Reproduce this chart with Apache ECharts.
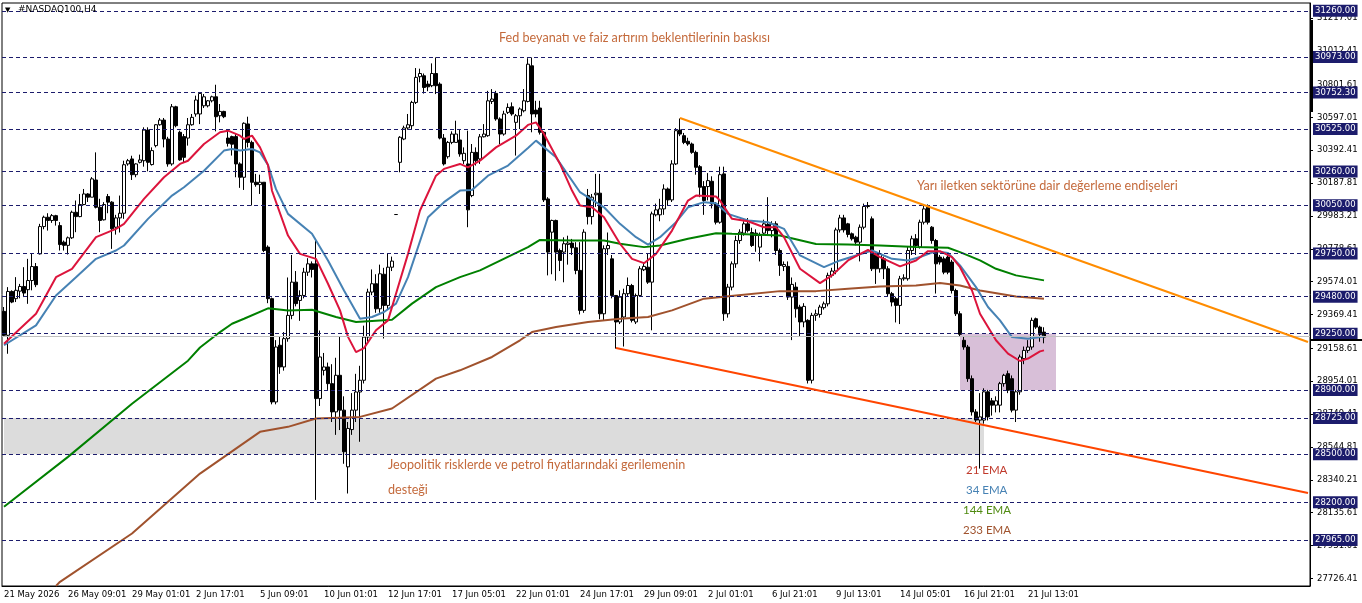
<!DOCTYPE html>
<html>
<head>
<meta charset="utf-8">
<title>#NASDAQ100,H4</title>
<script src="https://cdn.jsdelivr.net/npm/echarts@6/dist/echarts.min.js"></script>
<style>
    html, body { margin: 0; padding: 0; background: #fff; }
    #chart { width: 1362px; height: 603px; }
</style>
</head>
<body>
<div id="chart"></div>
<script>
// x tick labels, one every 16 bars
const xTickLabels = ['21 May 2026', '26 May 09:01', '29 May 01:01', '2 Jun 17:01', '5 Jun 09:01', '10 Jun 01:01',
    '12 Jun 17:01', '17 Jun 05:01', '22 Jun 01:01', '24 Jun 17:01', '29 Jun 09:01', '2 Jul 01:01',
    '6 Jul 21:01', '9 Jul 13:01', '14 Jul 05:01', '16 Jul 21:01', '21 Jul 13:01'];
const yTickValues = [31217.01, 31012.41, 30801.61, 30597.01, 30392.41, 30187.81, 29983.21, 29778.61, 29574.01,
    29369.41, 29158.61, 28954.01, 28749.41, 28544.81, 28340.21, 28135.61, 27931.01, 27726.41];
const levelPrices = [31260, 30973, 30752.30, 30525, 30260, 30050, 29750, 29480, 29250, 28900, 28725, 28500, 28200, 27965];
const bidPrice = 29236;
const slotCount = 327;

// open, high, low, close
const ohlc = [
    [29389,29416,29230,29240],[29240,29540,29125,29513],[29513,29520,29440,29447],[29468,29602,29447,29520],
    [29515,29560,29470,29544],[29544,29664,29478,29503],[29524,29716,29436,29581],[29581,29747,29520,29668],
    [29668,29690,29540,29555],[29747,29934,29743,29917],[29917,29985,29900,29975],[29975,30000,29892,29955],
    [29955,29995,29940,29985],[29985,29990,29923,29955],[29923,29945,29768,29805],[29820,29830,29768,29800],
    [29800,29855,29743,29847],[29847,30016,29840,30006],[30006,30079,29882,29979],[29979,30120,29975,30054],
    [30054,30151,30050,30120],[30120,30125,30070,30100],[30100,30225,30100,30214],[30207,30379,30030,30037],
    [30037,30090,29882,29955],[29959,30069,29955,30054],[30104,30120,30000,30069],[30069,30075,29778,29903],
    [29913,29990,29867,29971],[29971,30110,29880,30000],[30000,30327,29965,30302],[30307,30338,30296,30327],
    [30338,30358,30207,30240],[30240,30311,30224,30307],[30317,30365,30310,30332],[30327,30535,30290,30518],
    [30518,30535,30261,30317],[30303,30410,30297,30390],[30421,30555,30410,30551],[30551,30593,30545,30580],
    [30580,30593,30410,30462],[30462,30476,30290,30307],[30307,30680,30296,30663],[30663,30669,30535,30545],
    [30504,30514,30327,30332],[30477,30493,30317,30348],[30468,30593,30421,30551],[30551,30618,30545,30597],
    [30618,30732,30601,30705],[30618,30752,30555,30746],[30669,30742,30655,30725],[30669,30705,30659,30700],
    [30700,30732,30690,30725],[30725,30800,30510,30601],[30607,30680,30566,30634],[30634,30638,30592,30601],
    [30468,30514,30415,30435],[30477,30483,30359,30430],[30477,30493,30224,30307],[30307,30317,30158,30224],
    [30224,30566,30145,30560],[30556,30601,30410,30441],[30441,30452,30048,30193],[30193,30245,30165,30178],
    [30178,30240,30120,30193],[30193,30193,29758,29768],[29789,29800,29440,29468],[29468,29475,28810,28825],
    [28825,29210,28810,29167],[29178,29230,29000,29043],[29043,29260,29020,29219],[29219,29600,29200,29364],
    [29364,29740,29340,29571],[29571,29640,29420,29437],[29457,29520,29330,29488],[29488,29660,29470,29633],
    [29633,29720,29610,29685],[29685,29700,29600,29650],[29685,29840,28215,28846],[28846,29270,28800,29105],
    [29022,29130,28990,29043],[29043,29070,28900,28939],[28939,29060,28700,28763],[28763,29100,28620,28991],
    [28991,29230,28650,28774],[28774,28860,28440,28515],[28421,28700,28255,28660],[28653,28880,28620,28774],
    [28774,29000,28700,28887],[28887,29050,28577,28960],[28960,29300,28940,29229],[29229,29530,29200,29509],
    [29509,29650,29490,29561],[29561,29620,29380,29405],[29405,29680,29380,29623],[29620,29660,29220,29426],
    [29426,29750,29400,29664],[29664,29730,29640,29702],[29992,29992,29992,29992],[30317,30480,30255,30473],
    [30462,30545,30455,30531],[30531,30618,30520,30551],[30545,30700,30520,30690],[30690,30904,30680,30846],
    [30850,30900,30815,30870],[30856,30870,30745,30783],[30804,30825,30760,30787],[30794,30933,30785,30870],
    [30870,30970,30742,30794],[30804,30815,30460,30468],[30468,30493,30297,30307],[30352,30450,30340,30441],
    [30441,30510,30430,30493],[30441,30576,30441,30493],[30456,30518,30352,30369],[30327,30410,30307,30373],
    [30307,30514,29913,30021],[30110,30431,30100,30379],[30379,30410,30297,30327],[30338,30493,30307,30476],
    [30476,30555,30472,30493],[30483,30762,30476,30700],[30696,30773,30680,30711],[30746,30762,30576,30587],
    [30587,30597,30431,30493],[30493,30638,30483,30618],[30628,30684,30618,30659],[30663,30690,30607,30618],
    [30566,30618,30359,30607],[30607,30659,30524,30649],[30638,30773,30628,30700],[30696,30965,30690,30928],
    [30918,30970,30504,30618],[30642,30700,30597,30618],[30655,30700,30490,30504],[30504,30510,30070,30083],
    [30089,30100,29613,29758],[29882,29960,29620,29955],[29955,29960,29580,29758],[29768,29780,29640,29706],
    [29758,29850,29570,29810],[29806,29860,29680,29814],[29814,29840,29740,29785],[29785,29820,29620,29644],
    [29644,29820,29370,29395],[29395,29900,29380,29882],[30110,30151,29930,29979],[29979,30120,29930,30100],
    [30115,30245,30040,30125],[30125,30245,29340,29374],[29374,29800,29330,29779],[29779,29880,29740,29799],
    [29716,29740,29470,29488],[29488,29490,29157,29323],[29323,29520,29310,29478],[29354,29530,29170,29499],
    [29499,29600,29480,29550],[29550,29560,29320,29333],[29323,29500,29310,29488],[29488,29670,29480,29654],
    [29648,29690,29640,29669],[29664,29750,29560,29571],[29571,30010,29271,29996],[29990,30060,29980,30021],
    [29990,30090,29950,30027],[30027,30180,29990,30151],[30151,30160,30050,30083],[30083,30330,30070,30307],
    [30307,30530,30300,30514],[30518,30590,30480,30493],[30483,30500,30430,30441],[30448,30470,30420,30431],
    [30431,30440,30370,30379],[30379,30390,30240,30286],[30290,30300,30100,30162],[30166,30200,29990,30079],
    [30166,30250,30080,30203],[30199,30230,30030,30058],[30058,30070,29930,29944],[29944,30290,29935,30240],
    [30245,30290,29330,29374],[29374,29560,29350,29540],[29540,29700,29520,29685],[29685,29860,29660,29830],
    [29830,29900,29810,29882],[29876,29950,29860,29934],[29934,29970,29880,29892],[29880,29910,29790,29799],
    [29876,29900,29760,29861],[29789,29880,29700,29861],[29876,29960,29860,29934],[29930,30100,29860,29892],
    [29892,29950,29850,29934],[29934,29950,29740,29768],[29768,29780,29610,29675],[29669,29700,29640,29681],
    [29669,29700,29460,29478],[29478,29600,29210,29557],[29540,29570,29350,29405],[29416,29430,29230,29323],
    [29323,29440,29290,29420],[29333,29340,28940,28960],[28960,29380,28940,29364],[29364,29400,29330,29374],
    [29370,29430,29350,29416],[29412,29450,29400,29436],[29436,29630,29420,29613],[29613,29660,29600,29640],
    [29640,29910,29620,29896],[29896,29990,29880,29971],[29971,29990,29880,29896],[29934,29940,29850,29868],
    [29872,29880,29830,29841],[29851,29860,29800,29820],[29820,29930,29700,29913],[29913,30060,29900,30042],
    [30048,30070,30030,30042],[29965,29980,29640,29654],[29747,29760,29560,29654],[29654,29770,29630,29747],
    [29716,29730,29590,29654],[29654,29670,29480,29499],[29499,29510,29420,29447],[29468,29480,29320,29426],
    [29426,29610,29310,29592],[29592,29620,29580,29598],[29592,29790,29580,29768],[29768,29860,29740,29841],
    [29841,29870,29740,29799],[29789,29960,29780,29944],[29944,30045,29930,30027],[30037,30055,29930,29944],
    [29913,29920,29810,29830],[29830,29840,29500,29685],[29727,29740,29680,29696],[29716,29730,29620,29633],
    [29727,29740,29620,29633],[29696,29710,29500,29519],[29519,29530,29360,29374],[29374,29390,29230,29246],
    [29209,29230,29150,29167],[29167,29180,28950,28970],[28970,28990,28740,28763],[28763,28780,28700,28712],
    [28712,28880,28410,28732],[28712,28910,28690,28888],[28888,28900,28710,28732],[28832,28850,28740,28805],
    [28805,28860,28760,28832],[28805,28950,28760,28939],[28939,29000,28920,28991],[29001,29020,28880,28898],
    [28970,28990,28760,28774],[28774,28900,28700,28888],[28888,29120,28870,29105],[29095,29170,29060,29146],
    [29146,29210,29130,29167],[29167,29350,29150,29333],[29343,29350,29280,29291],[29291,29300,29200,29246],
    [29260,29290,29190,29229]
];

// moving averages: [bar index, value]
const ema21 = [[0,29188],[8,29374],[13,29602],[17,29654],[23,29851],[28,29903],[30,29934],[35,30089],[40,30224],
    [44,30307],[46,30327],[50,30431],[54,30504],[56,30514],[59,30483],[60,30462],[62,30483],[64,30410],[66,30300],
    [67,30140],[71,29861],[74,29747],[78,29716],[81,29561],[84,29395],[86,29230],[88,29135],[90,29160],[93,29271],
    [96,29333],[98,29499],[101,29747],[104,30017],[108,30234],[110,30276],[114,30307],[116,30286],[119,30327],
    [123,30410],[128,30483],[131,30550],[133,30566],[135,30493],[139,30307],[142,30141],[144,30048],[147,30037],
    [150,29975],[154,29810],[157,29716],[160,29689],[163,29747],[167,29892],[171,30079],[173,30110],[178,30104],
    [179,30079],[182,29965],[186,29950],[190,29913],[193,29913],[195,29851],[199,29654],[204,29565],[207,29613],
    [211,29706],[216,29772],[219,29727],[224,29669],[228,29706],[231,29764],[234,29764],[237,29727],[239,29664],
    [242,29519],[244,29374],[248,29209],[251,29126],[254,29080],[256,29095],[259,29140],[260,29146]];
const ema34 = [[0,29178],[8,29302],[13,29488],[18,29602],[23,29716],[28,29768],[30,29799],[36,29965],[42,30110],
    [45,30162],[50,30265],[55,30390],[57,30400],[59,30390],[62,30400],[64,30379],[66,30300],[68,30150],[71,29996],
    [77,29872],[81,29706],[85,29519],[89,29343],[92,29354],[95,29385],[98,29437],[101,29602],[106,29975],[110,30069],
    [114,30141],[117,30145],[121,30234],[126,30297],[131,30406],[133,30452],[138,30348],[144,30131],[150,30037],
    [154,29934],[158,29851],[161,29805],[164,29851],[168,29944],[171,30037],[175,30069],[178,30062],[181,29996],
    [186,29955],[191,29944],[195,29903],[199,29737],[205,29664],[209,29706],[217,29768],[222,29716],[226,29706],
    [229,29727],[233,29764],[236,29752],[239,29675],[243,29540],[246,29416],[249,29333],[252,29229],[256,29219],
    [260,29233]];
const ema144 = [[0,28172],[16,28483],[32,28814],[46,29082],[49,29164],[54,29260],[57,29312],[60,29343],[66,29408],
    [71,29395],[77,29399],[83,29354],[88,29323],[97,29337],[102,29437],[108,29540],[114,29602],[119,29644],
    [131,29789],[134,29834],[142,29830],[150,29830],[154,29810],[160,29789],[164,29799],[171,29841],[178,29876],
    [182,29872],[194,29861],[203,29809],[211,29805],[219,29799],[228,29789],[236,29785],[239,29758],[244,29706],
    [248,29654],[253,29613],[260,29582]];
const ema233 = [[13,27680],[14,27705],[32,28006],[49,28379],[64,28639],[71,28670],[78,28722],[89,28732],
    [97,28784],[108,28970],[114,29022],[122,29105],[129,29209],[132,29260],[138,29291],[146,29323],[154,29343],
    [161,29354],[167,29395],[175,29468],[183,29488],[194,29515],[203,29515],[211,29530],[219,29544],[228,29550],
    [234,29565],[239,29550],[244,29519],[253,29482],[260,29468]];

// trend lines and zones: [bar index, price]
const upperTrend = [[169, 30593], [326, 29198]];
const lowerTrend = [[153, 29161], [326, 28258]];
const supportZone = [[0, 28725], [245, 28500]];
const reboundZone = [[239, 29250], [263, 28900]];

const slots = [];
for (let i = 0; i < slotCount; i++) slots.push(String(i));

const axisFont = 'DejaVu Sans';
const noteFont = '12.6px Lato';
const emaFont = '11.5px Lato';

function emaLine(name, data, color) {
    return {
        name: name,
        type: 'line',
        data: data,
        symbol: 'none',
        smooth: false,
        silent: true,
        lineStyle: { color: color, width: 2 },
        z: 4
    };
}

function trendLine(data, color) {
    return {
        type: 'line',
        data: data,
        symbol: 'none',
        silent: true,
        lineStyle: { color: color, width: 2 },
        z: 5
    };
}

const chart = echarts.init(document.getElementById('chart'));

chart.setOption({
    animation: false,
    backgroundColor: '#fff',
    grid: {
        left: 2, right: 52, top: 3, bottom: 17,
        show: true, borderColor: '#000', borderWidth: 1
    },
    xAxis: {
        type: 'category',
        data: slots,
        boundaryGap: true,
        axisLine: { lineStyle: { color: '#000' } },
        axisTick: {
            alignWithLabel: true, length: 3,
            interval: (i) => i % 16 === 0,
            lineStyle: { color: '#000' }
        },
        axisLabel: {
            interval: (i) => i % 16 === 0,
            formatter: (v, i) => xTickLabels[i / 16] || '',
            align: 'left',
            margin: 4,
            color: '#000',
            fontSize: 8.5,
            fontFamily: axisFont
        },
        splitLine: { show: false }
    },
    yAxis: {
        type: 'value',
        position: 'right',
        min: 27679,
        max: 31309,
        splitLine: { show: false },
        axisLine: { show: true, lineStyle: { color: '#000' } },
        axisTick: { show: true, length: 3, customValues: yTickValues, lineStyle: { color: '#000' } },
        axisLabel: {
            customValues: yTickValues,
            formatter: (v) => v.toFixed(2),
            margin: 7,
            color: '#000',
            fontSize: 8.5,
            fontFamily: axisFont
        }
    },
    series: [
        {
            // levels and zones
            type: 'line',
            data: [],
            z: 1,
            silent: true,
            markArea: {
                silent: true,
                data: [
                    [
                        { xAxis: supportZone[0][0], yAxis: supportZone[0][1], itemStyle: { color: '#dcdcdc' } },
                        { xAxis: supportZone[1][0], yAxis: supportZone[1][1] }
                    ],
                    [
                        { xAxis: reboundZone[0][0], yAxis: reboundZone[0][1], itemStyle: { color: '#d8bfd8' } },
                        { xAxis: reboundZone[1][0], yAxis: reboundZone[1][1] }
                    ]
                ]
            },
            markLine: {
                silent: true,
                symbol: ['none', 'none'],
                animation: false,
                lineStyle: { color: '#1c1c6c', type: [4, 3], width: 1 },
                label: {
                    position: 'end',
                    distance: 3,
                    formatter: (p) => Number(p.value).toFixed(2),
                    color: '#fff',
                    backgroundColor: '#1c1c6c',
                    padding: [2, 2, 1, 2],
                    fontSize: 8.5,
                    fontFamily: axisFont
                },
                data: levelPrices.map(v => ({ yAxis: v })).concat([{
                    yAxis: bidPrice,
                    lineStyle: { color: '#c0c0c0', type: 'solid', width: 1 },
                    label: { show: false }
                }])
            }
        },
        {
            type: 'candlestick',
            data: ohlc.map(d => [d[0], d[3], d[2], d[1]]),
            barWidth: 3,
            silent: true,
            z: 3,
            itemStyle: {
                color: '#fff', color0: '#000',
                borderColor: '#000', borderColor0: '#000',
                borderWidth: 1
            }
        },
        emaLine('233 EMA', ema233, '#a0522d'),
        emaLine('144 EMA', ema144, '#008000'),
        emaLine('34 EMA', ema34, '#4682b4'),
        emaLine('21 EMA', ema21, '#dc143c'),
        trendLine(upperTrend, '#ff8c00'),
        trendLine(lowerTrend, '#ff4500')
    ],
    graphic: [
        { type: 'text', x: 5, y: 10, z: 10, style: { text: '▼', font: '7px DejaVu Sans', fill: '#000', verticalAlign: 'middle' } },
        { type: 'text', x: 18, y: 10, z: 10, style: { text: '#NASDAQ100,H4', font: '9px DejaVu Sans', fill: '#000', verticalAlign: 'middle' } },
        { type: 'text', x: 499, y: 38, z: 10, style: { text: 'Fed beyanatı ve faiz artırım beklentilerinin baskısı', font: noteFont, fill: '#c46a3c', verticalAlign: 'middle' } },
        { type: 'text', x: 917, y: 186, z: 10, style: { text: 'Yarı iletken sektörüne dair değerleme endişeleri', font: noteFont, fill: '#c46a3c', verticalAlign: 'middle' } },
        { type: 'text', x: 388, y: 465, z: 10, style: { text: 'Jeopolitik risklerde ve petrol fiyatlarındaki gerilemenin', font: noteFont, fill: '#c46a3c', verticalAlign: 'middle' } },
        { type: 'text', x: 388, y: 490, z: 10, style: { text: 'desteği', font: noteFont, fill: '#c46a3c', verticalAlign: 'middle' } },
        { type: 'text', x: 966, y: 470, z: 10, style: { text: '21 EMA', font: emaFont, fill: '#c0392b', verticalAlign: 'middle' } },
        { type: 'text', x: 966, y: 490, z: 10, style: { text: '34 EMA', font: emaFont, fill: '#4682b4', verticalAlign: 'middle' } },
        { type: 'text', x: 963, y: 510, z: 10, style: { text: '144 EMA', font: emaFont, fill: '#4f8a10', verticalAlign: 'middle' } },
        { type: 'text', x: 963, y: 530, z: 10, style: { text: '233 EMA', font: emaFont, fill: '#a0522d', verticalAlign: 'middle' } },
        { type: 'rect', z: 10, shape: { x: 1310, y: 20, width: 3, height: 92 }, style: { fill: '#000' } },
        { type: 'rect', z: 10, shape: { x: 1311, y: 339, width: 51, height: 2 }, style: { fill: '#000' } }
    ]
});
</script>
</body>
</html>
